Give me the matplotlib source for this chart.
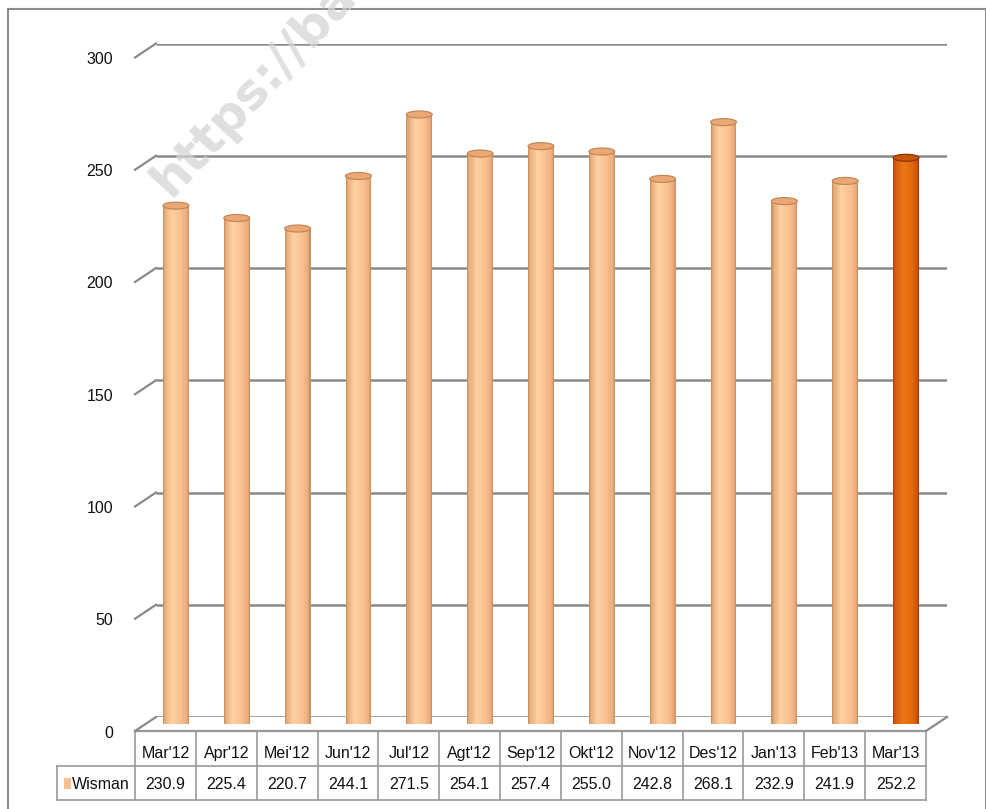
import numpy as np
import matplotlib
matplotlib.use("Agg")
import matplotlib.pyplot as plt
from matplotlib.patches import Rectangle, Ellipse
from matplotlib.lines import Line2D
from matplotlib.transforms import ScaledTranslation, IdentityTransform

# ---- data ----
categories = ["Mar'12", "Apr'12", "Mei'12", "Jun'12", "Jul'12", "Agt'12", "Sep'12",
              "Okt'12", "Nov'12", "Des'12", "Jan'13", "Feb'13", "Mar'13"]
values = [230.9, 225.4, 220.7, 244.1, 271.5, 254.1, 257.4, 255.0, 242.8, 268.1, 232.9, 241.9, 252.2]
value_labels = ["230.9", "225.4", "220.7", "244.1", "271.5", "254.1", "257.4",
                "255.0", "242.8", "268.1", "232.9", "241.9", "252.2"]
series_name = "Wisman"
y_ticks = [0, 50, 100, 150, 200, 250, 300]
highlight_index = 12

W, H, DPI = 987, 809, 100
FONT = ["Liberation Sans", "DejaVu Sans"]
FS = 11.5

fig = plt.figure(figsize=(W / DPI, H / DPI), dpi=DPI)
fig.patch.set_facecolor("white")


def px_box(x0, y0, x1, y1):
    """Figure-fraction box from pixel edges measured from the top-left."""
    return [x0 / W, 1 - y1 / H, (x1 - x0) / W, (y1 - y0) / H]


# back wall of the 3-D plot
ax = fig.add_axes(px_box(156, 43.5, 947, 717))
ax.set_xlim(-0.5, len(categories) - 0.5)
ax.set_ylim(0, 300)
ax.axis("off")

# depth offsets (pixels): front plane and mid-depth plane where the cylinders stand
DX, DY = -21, -14
front = ax.transData + ScaledTranslation(DX / DPI, DY / DPI, fig.dpi_scale_trans)
mid = ax.transData + ScaledTranslation(DX / 2 / DPI, DY / 2 / DPI, fig.dpi_scale_trans)

GRID = "#8a8a8a"
xmin, xmax = ax.get_xlim()


def disp(x, y, tr):
    return tr.transform((x, y))


def seg(p, q, **kw):
    fig.add_artist(Line2D([p[0], q[0]], [p[1], q[1]], transform=IdentityTransform(), **kw))


# gridlines on the back wall plus the slanted side-wall ticks
for v in y_ticks:
    ax.plot([xmin, xmax], [v, v], color=GRID, lw=1.8, zorder=1, solid_capstyle="butt")
    seg(disp(xmin, v, front), disp(xmin, v, ax.transData), color=GRID, lw=1.6, zorder=1)

# front vertical axis
ax.plot([xmin, xmin], [0, 300], color=GRID, lw=1.6, transform=front, zorder=1)
# floor outline
ax.plot([xmin, xmax], [0, 0], color=GRID, lw=1.6, transform=front, zorder=1, clip_on=False)
seg(disp(xmax, 0, front), disp(xmax, 0, ax.transData), color=GRID, lw=1.6, zorder=1)

# y tick labels
lab_tr = front + ScaledTranslation(-22 / DPI, -2 / DPI, fig.dpi_scale_trans)
for v in y_ticks:
    ax.text(xmin, v, f"{v}", transform=lab_tr, ha="right", va="center",
            fontsize=FS, family=FONT, color="#111111", clip_on=False)


# ---- cylinders ----
def ramp(stops, t):
    ts = [s[0] for s in stops]
    cols = np.array([s[1] for s in stops], dtype=float) / 255.0
    return tuple(np.interp(t, ts, cols[:, k]) for k in range(3))


light_stops = [(0.0, (196, 138, 92)), (0.08, (232, 172, 122)), (0.35, (253, 208, 163)),
               (0.7, (249, 192, 143)), (0.92, (234, 170, 120)), (1.0, (196, 138, 92))]
dark_stops = [(0.0, (160, 62, 5)), (0.08, (208, 88, 8)), (0.35, (236, 118, 24)),
              (0.7, (228, 106, 12)), (0.92, (204, 84, 8)), (1.0, (155, 58, 5))]

bar_w = 0.425
n_sl = 24
ax_h_px = 717 - 43.5
ell_h = 7.0 * 300 / ax_h_px  # cap height in data units (7 px)

for i, v in enumerate(values):
    stops = dark_stops if i == highlight_index else light_stops
    left = i - bar_w / 2
    sw = bar_w / n_sl
    xs = [left + (k + 0.5) * sw for k in range(n_sl)]
    cols = [ramp(stops, (k + 0.5) / n_sl) for k in range(n_sl)]
    # rounded base
    base = Ellipse((i, 0), bar_w, ell_h, transform=mid, facecolor="none", edgecolor="none")
    ax.add_patch(base)
    bb = ax.bar(xs, [ell_h / 2] * n_sl, width=sw * 1.05, bottom=-ell_h / 2,
                color=cols, edgecolor="none", zorder=3)
    for p in bb:
        p.set_transform(mid)
        p.set_clip_path(base)
    # body
    body = ax.bar(xs, [v] * n_sl, width=sw * 1.05, bottom=0, color=cols,
                  edgecolor="none", zorder=3)
    for p in body:
        p.set_transform(mid)
        p.set_clip_on(False)
    # top cap
    if i == highlight_index:
        face, edge = (0.78, 0.33, 0.03), (0.55, 0.22, 0.02)
    else:
        face, edge = (0.92, 0.66, 0.46), (0.76, 0.53, 0.35)
    cap = Ellipse((i, v), bar_w, ell_h, transform=mid, facecolor=face,
                  edgecolor=edge, lw=0.9, zorder=4)
    ax.add_patch(cap)

ax.set_xlim(xmin, xmax)
ax.set_ylim(0, 300)

# ---- data table ----
col_px = (947 - 156) / len(categories)
leg_cols = 78 / col_px
tab = fig.add_axes(px_box(57, 731, 135 + col_px * len(categories), 800))
tab.set_xlim(-0.5 - leg_cols, len(categories) - 0.5)
tab.set_ylim(0, 2)
tab.axis("off")
TAB = "#9a9a9a"
n = len(categories)
tab.plot([-0.5, n - 0.5], [2, 2], color=TAB, lw=1.2, clip_on=False)
tab.plot([-0.5 - leg_cols, n - 0.5], [1, 1], color=TAB, lw=1.2, clip_on=False)
tab.plot([-0.5 - leg_cols, n - 0.5], [0, 0], color=TAB, lw=1.2, clip_on=False)
tab.plot([-0.5 - leg_cols] * 2, [0, 1], color=TAB, lw=1.2, clip_on=False)
for k in range(n + 1):
    tab.plot([k - 0.5] * 2, [0, 2], color=TAB, lw=1.2, clip_on=False)
for i, (c, s) in enumerate(zip(categories, value_labels)):
    tab.text(i, 1.34, c, ha="center", va="center", fontsize=FS, family=FONT, color="#111111")
    tab.text(i, 0.45, s, ha="center", va="center", fontsize=FS, family=FONT, color="#111111")
tab.add_patch(Rectangle((-0.5 - leg_cols + 0.12, 0.33), 0.11, 0.3,
                        facecolor=(0.98, 0.75, 0.56), edgecolor="none", clip_on=False))
tab.text(-0.5 - leg_cols + 0.25, 0.45, series_name, ha="left", va="center",
         fontsize=FS, family=FONT, color="#111111")

# faint site watermark
fig.text(170 / W, 1 - 198 / H, "https://ba", rotation=47, rotation_mode="anchor",
         ha="left", va="baseline", fontsize=36, fontweight="bold", color="#d4d4d4",
         alpha=0.75, family="DejaVu Sans", zorder=10)

# chart border
fig.add_artist(Rectangle((8 / W, -0.02), (986 - 8) / W, 1.02 - 9 / H, transform=fig.transFigure,
                         fill=False, edgecolor="#8c8c8c", lw=1.5))

fig.savefig("out.png", dpi=DPI, facecolor="white")
